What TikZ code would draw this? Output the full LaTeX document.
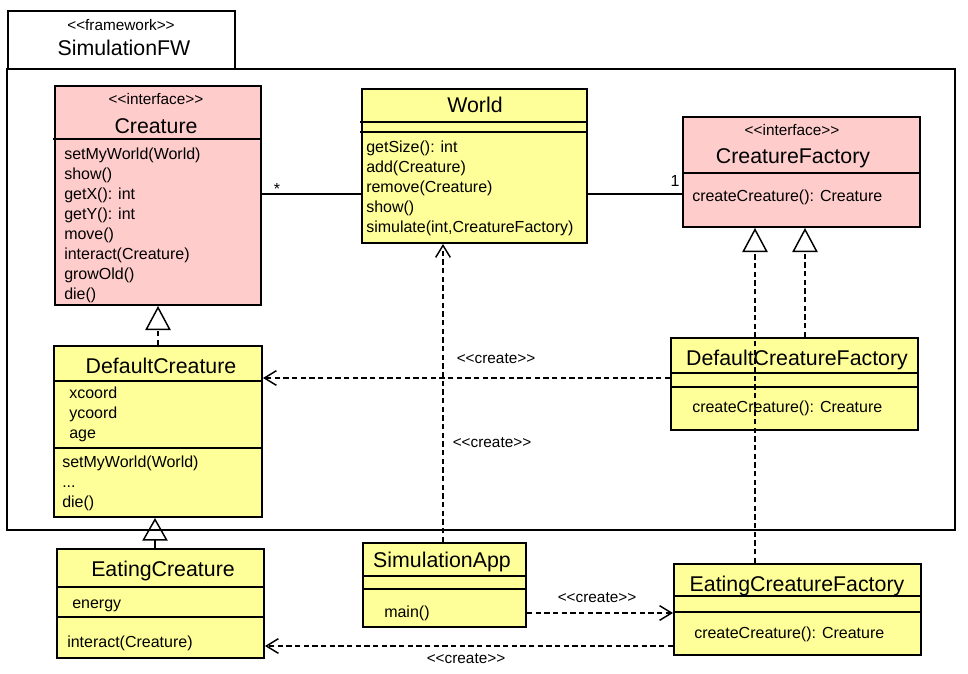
\documentclass[tikz,border=0pt]{standalone}
\usepackage{fontspec}
\setmainfont{Liberation Sans}
\usetikzlibrary{arrows.meta,fit}

\definecolor{ifacepink}{RGB}{255,204,204}
\definecolor{classyellow}{RGB}{255,255,153}
\newcommand\stereo[1]{<{}<#1>{}>}

\tikzset{
  frame/.style={draw, line width=1.5pt},
  box/.style={draw, line width=1.5pt, inner sep=0pt},
  ibox/.style={box, fill=ifacepink},
  cbox/.style={box, fill=classyellow},
  divider/.style={line width=1.5pt},
  title/.style={font=\fontsize{16}{19}\selectfont, inner sep=0pt, anchor=base},
  stereotype/.style={font=\fontsize{11.5}{13}\selectfont, inner sep=0pt, anchor=base},
  member/.style={font=\fontsize{12}{14}\selectfont, inner sep=0pt, anchor=base west},
  crlabel/.style={font=\fontsize{11.5}{13}\selectfont, inner sep=0pt, anchor=base},
  assoc/.style={line width=1.5pt},
  dep/.style={line width=1.1pt, dash pattern=on 4pt off 2.5pt,
    -{Straight Barb[length=9pt,width=11pt,line width=1.1pt]}},
  realize/.style={line width=1.1pt, dash pattern=on 4pt off 2.5pt,
    -{Triangle[open,length=18pt,width=19pt,line width=1.1pt]}},
  inherit/.style={line width=1.1pt,
    -{Triangle[open,length=17pt,width=19pt,line width=1.1pt]}}
}

\begin{document}
\begin{tikzpicture}[x=0.75pt,y=-0.75pt]
  \useasboundingbox (0,0) rectangle (968,674);

  % framework package
  \draw[frame] (8,11) rectangle (235,69);
  \draw[frame] (7,69) rectangle (955,530);
  \node[stereotype] (fwstereo) at (121,31) {\stereo{framework}};
  \node[title] (fwname) at (124,56) {SimulationFW};

  % Creature
  \node[ibox, fit={(55,86) (261,305)}] (creature) {};
  \draw[divider] (53,139) -- (261,139);
  \node[stereotype] (crstereo) at (156,104) {\stereo{interface}};
  \node[title] (crname) at (156,133) {Creature};
  \foreach \m [count=\i from 0] in {setMyWorld(World), show(), getX(): int,
      getY(): int, move(), interact(Creature), growOld(), die()}
    \node[member] (crm\i) at (64,159+20*\i) {\m};

  % World
  \node[cbox, fit={(362,89) (587,243)}] (world) {};
  \draw[divider] (360,122) -- (587,122);
  \draw[divider] (360,132) -- (587,132);
  \node[title] (wname) at (475,113) {World};
  \foreach \m [count=\i from 0] in {getSize(): int, add(Creature),
      remove(Creature), show(), {simulate(int,CreatureFactory)}}
    \node[member] (wm\i) at (366,152+20*\i) {\m};

  % CreatureFactory
  \node[ibox, fit={(683,117) (920,227)}] (cfactory) {};
  \draw[divider] (683,173) -- (920,173);
  \node[stereotype] (cfstereo) at (792,136) {\stereo{interface}};
  \node[title] (cfname) at (793,163) {CreatureFactory};
  \node[member] (cfm) at (692,201) {createCreature(): Creature};

  % DefaultCreature
  \node[cbox, fit={(54,346) (262,517)}] (dcreature) {};
  \draw[divider] (54,381) -- (262,381);
  \draw[divider] (54,448) -- (262,448);
  \node[title] (dcname) at (161,373) {DefaultCreature};
  \foreach \a [count=\i from 0] in {xcoord, ycoord, age}
    \node[member] (dca\i) at (69,398+20*\i) {\a};
  \foreach \m [count=\i from 0] in {setMyWorld(World), .{}.{}., die()}
    \node[member] (dcm\i) at (62,467+20*\i) {\m};

  % DefaultCreatureFactory
  \node[cbox, fit={(671,338) (918,430)}] (dcf) {};
  \draw[divider] (671,373) -- (918,373);
  \draw[divider] (671,387) -- (918,387);
  \node[title] (dcfname) at (797,365) {DefaultCreatureFactory};
  \node[member] (dcfm) at (692,412) {createCreature(): Creature};

  % EatingCreature
  \node[cbox, fit={(57,549) (264,658)}] (ecreature) {};
  \draw[divider] (57,587) -- (264,587);
  \draw[divider] (57,617) -- (264,617);
  \node[title] (ecname) at (163,576) {EatingCreature};
  \node[member] (eca) at (72,608) {energy};
  \node[member] (ecm) at (67,647) {interact(Creature)};

  % SimulationApp
  \node[cbox, fit={(363,543) (526,627)}] (simapp) {};
  \draw[divider] (363,576) -- (526,576);
  \draw[divider] (363,589) -- (526,589);
  \node[title] (saname) at (442,567) {SimulationApp};
  \node[member] (sam) at (384,617) {main()};

  % EatingCreatureFactory
  \node[cbox, fit={(674,564) (921,655)}] (ecf) {};
  \draw[divider] (674,596) -- (921,596);
  \draw[divider] (674,612) -- (921,612);
  \node[title] (ecfname) at (797,591) {EatingCreatureFactory};
  \node[member] (ecfm) at (694,638) {createCreature(): Creature};

  % helper coordinates
  \coordinate (yas) at (0,194);
  \coordinate (ydc) at (0,378);
  \coordinate (yse) at (0,613);
  \coordinate (yee) at (0,646);
  \coordinate (xsa) at (443,0);
  \coordinate (xre) at (755,0);
  \coordinate (xrd) at (805,0);
  \coordinate (xgc) at (155,0);

  % associations
  \draw[assoc] (creature.east |- yas) -- (world.west |- yas);
  \draw[assoc] (world.east |- yas) -- (cfactory.west |- yas);
  \node[member, anchor=center] (many) at (277,189) {*};
  \node[member, anchor=center] (one) at (675,181) {1};

  % realizations and generalization
  \draw[realize] (dcreature.north) -- (creature.south);
  \draw[inherit] (ecreature.north -| xgc) -- (dcreature.south -| xgc);
  \draw[realize] (dcf.north -| xrd) -- (cfactory.south -| xrd);
  \draw[realize] (ecf.north -| xre) -- (cfactory.south -| xre);

  % create dependencies
  \draw[dep] (dcf.west |- ydc) -- (dcreature.east |- ydc);
  \draw[dep] (simapp.north -| xsa) -- (world.south -| xsa);
  \draw[dep] (simapp.east |- yse) -- (ecf.west |- yse);
  \draw[dep] (ecf.west |- yee) -- (ecreature.east |- yee);
  \node[crlabel] (crdc) at (496,363) {\stereo{create}};
  \node[crlabel] (crw) at (492,447) {\stereo{create}};
  \node[crlabel] (crecf) at (597,602) {\stereo{create}};
  \node[crlabel] (crec) at (466,663) {\stereo{create}};
\end{tikzpicture}
\end{document}
